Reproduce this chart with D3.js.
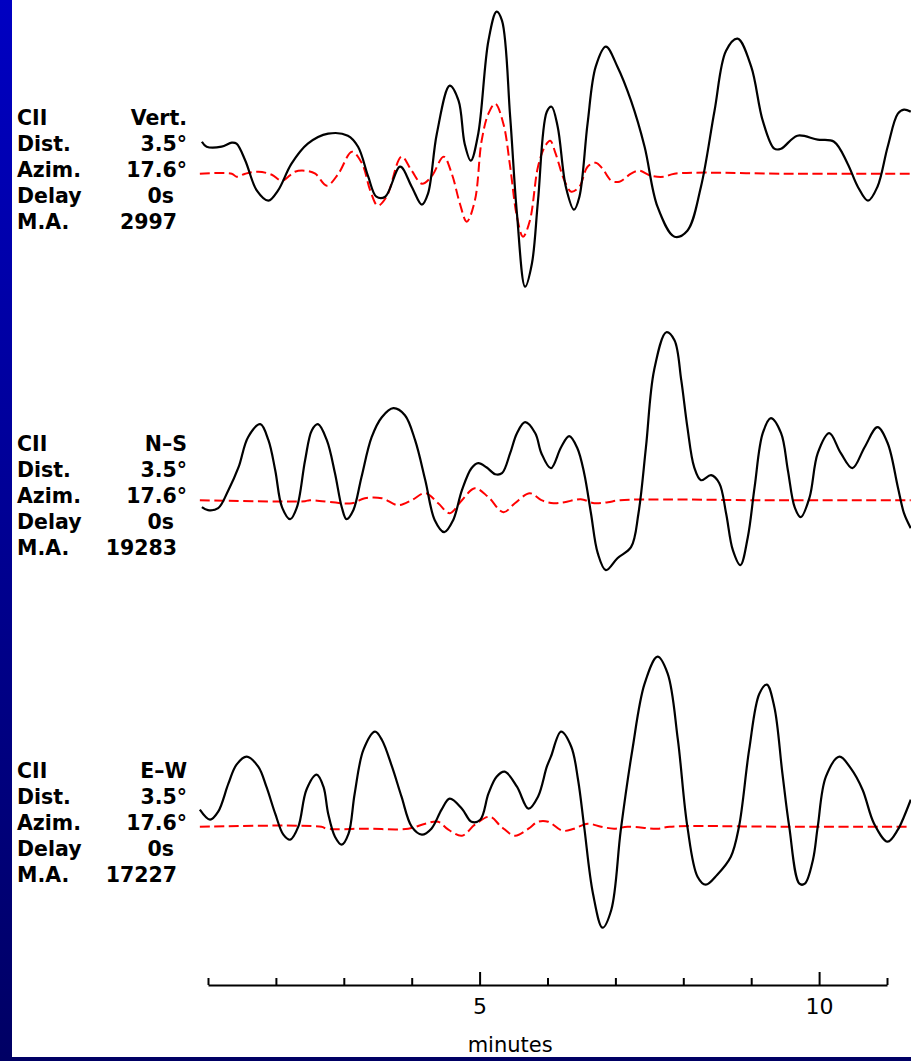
<!DOCTYPE html>
<html>
<head>
<meta charset="utf-8">
<script src="https://cdn.jsdelivr.net/npm/d3@7/dist/d3.min.js"></script>
<style>
  body { margin: 0; background: #fff; }
  svg { display: block; }
</style>
</head>
<body>
<div id="main"></div>
<script>
// --- data ---
var rowNames = ['CII', 'Dist.', 'Azim.', 'Delay', 'M.A.'];
var components = ['Vert.', 'N\u2013S', 'E\u2013W'];
var distances = ['3.5\u00b0', '3.5\u00b0', '3.5\u00b0'];
var azimuths = ['17.6\u00b0', '17.6\u00b0', '17.6\u00b0'];
var delays = ['0s', '0s', '0s'];
var maxAmps = ['2997', '19283', '17227'];

var minuteTicks = [1, 2, 3, 4, 5, 6, 7, 8, 9, 10, 11];
var labelledTicks = [5, 10];

// [minutes, amplitude]  observed (black) and synthetic (red) traces
var vertObs = [[0.91,32],[0.98,27],[1.20,27],[1.35,31],[1.42,30],[1.55,13],[1.72,-17],[1.89,-27],[2.03,-17],
  [2.23,10],[2.47,30],[2.77,40],[3.06,38],[3.21,27],[3.36,-3],[3.48,-23],[3.61,-23],[3.83,7],[4.00,-13],
  [4.15,-31],[4.24,-20],[4.37,40],[4.56,88],[4.69,73],[4.78,30],[4.87,13],[4.98,40],[5.13,133],[5.25,162],
  [5.33,153],[5.45,57],[5.55,-40],[5.67,-113],[5.77,-90],[5.86,-27],[5.99,62],[6.06,67],[6.15,47],[6.27,-13],
  [6.39,-36],[6.47,-23],[6.59,50],[6.71,107],[6.86,127],[7.03,107],[7.23,73],[7.43,27],[7.62,-33],[7.87,-63],
  [8.06,-57],[8.26,-13],[8.46,63],[8.63,123],[8.80,135],[9.00,107],[9.17,53],[9.34,25],[9.44,25],[9.68,38],
  [9.98,34],[10.22,32],[10.42,10],[10.57,-13],[10.72,-27],[10.86,-13],[11.01,27],[11.16,60],[11.25,64],[11.35,62]];
var vertSyn = [[0.88,0],[1.35,0],[1.42,-3],[1.55,0],[1.74,2],[1.94,-1],[2.09,-7],[2.28,2],[2.43,3],[2.58,0],
  [2.75,-12],[2.92,0],[3.12,22],[3.27,10],[3.39,-17],[3.50,-32],[3.63,-23],[3.85,17],[4.00,3],[4.15,-10],
  [4.29,-3],[4.47,17],[4.59,0],[4.71,-30],[4.81,-48],[4.93,-27],[5.03,33],[5.13,60],[5.23,70],[5.35,50],
  [5.45,7],[5.55,-43],[5.64,-63],[5.74,-47],[5.86,7],[5.96,27],[6.04,33],[6.12,20],[6.25,-7],[6.35,-18],
  [6.47,-13],[6.59,7],[6.71,11],[6.81,5],[6.94,-7],[7.06,-8],[7.23,0],[7.35,3],[7.52,-2],[7.72,-3],[7.87,0],
  [9.5,0],[11.35,0]];

var nsObs = [[0.91,-7],[1.00,-10],[1.15,-8],[1.30,10],[1.45,33],[1.59,63],[1.77,76],[1.89,60],[1.99,30],
  [2.09,-7],[2.21,-19],[2.31,-7],[2.43,40],[2.53,70],[2.62,76],[2.75,60],[2.87,27],[2.97,-7],[3.04,-19],
  [3.14,-10],[3.26,23],[3.41,63],[3.56,83],[3.73,92],[3.90,85],[4.05,60],[4.20,20],[4.34,-20],[4.48,-32],
  [4.61,-20],[4.74,10],[4.88,32],[4.98,37],[5.10,33],[5.23,26],[5.33,27],[5.45,47],[5.55,67],[5.67,78],
  [5.82,67],[5.91,47],[6.05,32],[6.20,53],[6.32,64],[6.44,52],[6.54,27],[6.64,-13],[6.74,-53],[6.86,-70],
  [7.03,-58],[7.23,-47],[7.34,-13],[7.45,53],[7.57,130],[7.75,168],[7.87,160],[7.97,120],[8.06,73],[8.16,33],
  [8.26,20],[8.41,25],[8.53,17],[8.63,-13],[8.73,-50],[8.84,-65],[8.95,-37],[9.05,13],[9.17,67],[9.29,82],
  [9.44,67],[9.54,30],[9.64,-7],[9.73,-17],[9.86,3],[9.98,47],[10.15,67],[10.32,47],[10.49,32],[10.67,53],
  [10.86,73],[11.01,57],[11.16,13],[11.25,-13],[11.35,-28]];
var nsSyn = [[0.88,0],[2.43,-1],[2.50,0],[3.12,-3],[3.31,2],[3.56,2],[3.80,-5],[4.00,0],[4.20,7],[4.39,-3],
  [4.56,-13],[4.74,0],[4.93,12],[5.13,3],[5.35,-12],[5.52,-3],[5.74,7],[5.91,0],[6.09,-3],[6.25,-2],
  [6.49,1],[6.69,-3],[6.89,-2],[7.07,0],[9.2,0],[11.35,0]];

var ewObs = [[0.88,17],[1.03,7],[1.15,15],[1.30,43],[1.42,62],[1.57,70],[1.74,60],[1.86,40],[1.99,13],
  [2.11,-8],[2.21,-13],[2.33,0],[2.45,37],[2.60,52],[2.70,40],[2.77,13],[2.87,-10],[2.97,-18],[3.07,-7],
  [3.16,33],[3.29,77],[3.46,95],[3.56,87],[3.71,60],[3.85,30],[4.00,0],[4.15,-8],[4.29,-2],[4.44,17],
  [4.56,28],[4.74,18],[4.88,5],[5.01,7],[5.13,33],[5.25,50],[5.37,55],[5.55,40],[5.72,18],[5.86,30],
  [5.99,60],[6.05,70],[6.20,95],[6.35,80],[6.45,47],[6.54,0],[6.67,-67],[6.81,-101],[6.94,-83],[7.08,-3],
  [7.25,77],[7.43,143],[7.62,170],[7.77,153],[7.92,87],[8.06,0],[8.21,-50],[8.33,-58],[8.50,-48],[8.70,-30],
  [8.82,0],[8.97,77],[9.12,133],[9.23,142],[9.34,120],[9.46,53],[9.56,0],[9.71,-57],[9.79,-57],[9.91,-33],
  [9.98,0],[10.10,50],[10.30,70],[10.47,58],[10.64,37],[10.81,3],[11.01,-15],[11.16,-3],[11.25,10],[11.35,27]];
var ewSyn = [[0.88,0],[2.67,0],[2.75,-2],[3.31,-2],[3.95,-2],[4.20,3],[4.39,5],[4.54,-3],[4.74,-9],
  [4.93,2],[5.15,10],[5.32,0],[5.52,-9],[5.72,-2],[5.86,5],[6.01,5],[6.22,-4],[6.39,-2],[6.59,3],[6.79,0],
  [6.98,-2],[7.18,0],[7.62,-2],[7.80,0],[9.5,0],[11.35,0]];

var panels = [
  { obs: vertObs, syn: vertSyn },
  { obs: nsObs, syn: nsSyn },
  { obs: ewObs, syn: ewSyn }
];

// --- drawing ---
var width = 911, height = 1061;
var font = '"DejaVu Sans", Verdana, sans-serif';

var svg = d3.select('#main')
  .append('svg')
  .attr('width', width)
  .attr('height', height);

svg.append('rect')
  .attr('width', width)
  .attr('height', height)
  .attr('fill', '#fff');

var x = d3.scaleLinear()
  .domain([1, 11])
  .range([208, 887]);

var firstZero = 173.7, panelStep = 326.5;
var rowOffsets = [-49, -23, 3, 29, 55];
var valueRight = [187, 187, 187, 174, 177];

panels.forEach(function(p, i) {
  var zero = firstZero + i * panelStep;
  var y = d3.scaleLinear()
    .domain([-100, 100])
    .range([zero + 100, zero - 100]);

  var line = d3.line()
    .x(function(d) { return x(d[0]); })
    .y(function(d) { return y(d[1]); })
    .curve(d3.curveCatmullRom.alpha(0.5));

  var g = svg.append('g');

  g.append('path')
    .datum(p.syn)
    .attr('d', line)
    .attr('fill', 'none')
    .attr('stroke', '#ff0000')
    .attr('stroke-width', 2)
    .attr('stroke-dasharray', '10,4.5');

  g.append('path')
    .datum(p.obs)
    .attr('d', line)
    .attr('fill', 'none')
    .attr('stroke', '#000')
    .attr('stroke-width', 2.2)
    .attr('stroke-linejoin', 'round');

  var values = [components[i], distances[i], azimuths[i], delays[i], maxAmps[i]];

  g.selectAll('text.name')
    .data(rowNames)
    .enter()
    .append('text')
    .attr('class', 'name')
    .attr('x', 17)
    .attr('y', function(d, j) { return y(0) + rowOffsets[j]; })
    .attr('font-family', font)
    .attr('font-weight', 'bold')
    .attr('font-size', 20.5)
    .text(function(d) { return d; });

  g.selectAll('text.value')
    .data(values)
    .enter()
    .append('text')
    .attr('class', 'value')
    .attr('x', function(d, j) { return valueRight[j]; })
    .attr('y', function(d, j) { return y(0) + rowOffsets[j]; })
    .attr('text-anchor', 'end')
    .attr('font-family', font)
    .attr('font-weight', 'bold')
    .attr('font-size', 20.5)
    .text(function(d) { return d; });
});

// time axis
var axis = d3.axisBottom(x)
  .tickValues(minuteTicks)
  .tickSizeInner(-7)
  .tickSizeOuter(0)
  .tickPadding(13)
  .tickFormat(function(d) { return labelledTicks.indexOf(d) >= 0 ? d : ''; });

var ax = svg.append('g')
  .attr('transform', 'translate(0,985)')
  .call(axis);

ax.select('.domain').attr('stroke', '#000').attr('stroke-width', 2);
ax.selectAll('.tick line')
  .attr('stroke', '#000')
  .attr('stroke-width', 2)
  .attr('y2', function(d) { return labelledTicks.indexOf(d) >= 0 ? -13 : -7; });
ax.selectAll('.tick text')
  .attr('fill', '#000')
  .attr('font-family', font)
  .attr('font-size', 22);

// slide frame: blue strip on the left, dark band at the bottom
var grad = svg.append('defs')
  .append('linearGradient')
  .attr('id', 'side')
  .attr('x1', 0).attr('y1', 0).attr('x2', 0).attr('y2', 1);
grad.append('stop').attr('offset', '0%').attr('stop-color', '#0000c2');
grad.append('stop').attr('offset', '100%').attr('stop-color', '#000064');

svg.append('rect')
  .attr('x', 0).attr('y', 0)
  .attr('width', 12).attr('height', height)
  .attr('fill', 'url(#side)');

svg.append('rect')
  .attr('x', 0).attr('y', 1057)
  .attr('width', width).attr('height', 4)
  .attr('fill', '#000064');

svg.append('text')
  .attr('x', x(5.45))
  .attr('y', 1052)
  .attr('text-anchor', 'middle')
  .attr('font-family', font)
  .attr('font-size', 21)
  .text('minutes');
</script>
</body>
</html>
